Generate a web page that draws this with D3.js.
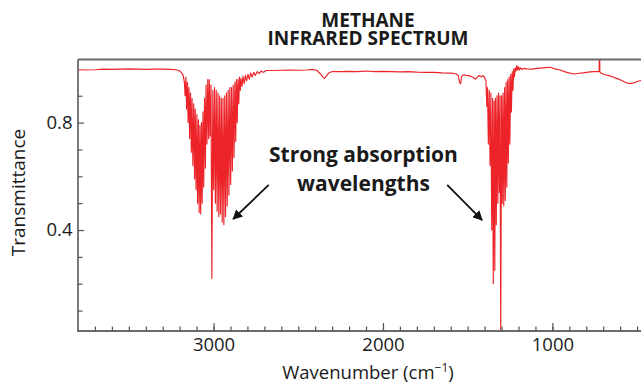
<!DOCTYPE html>
<html>
<head>
<meta charset="utf-8">
<script src="https://cdn.jsdelivr.net/npm/d3@7"></script>
<style>
  body { margin: 0; background: #fff; }
  svg text { font-family: "Open Sans", "Noto Sans", sans-serif; fill: #1a1a1a; }
</style>
</head>
<body>
<svg id="chart" width="641" height="382"></svg>
<script>
// Methane IR transmittance spectrum, [wavenumber cm^-1, transmittance]

// flat region above the C–H stretch
const highBaseline = [
  [3800, 0.997], [3750, 0.996], [3700, 0.997], [3650, 0.999], [3600, 0.998],
  [3550, 0.999], [3500, 1.000], [3450, 0.999], [3400, 0.998], [3350, 0.999],
  [3300, 0.999], [3250, 0.998], [3215, 0.996], [3195, 0.990], [3180, 0.978]
];

// C–H stretching band (R branch, Q line, P branch)
const stretchBand = [
  [3172, 0.95], [3168, 0.90], [3163, 0.97], [3159, 0.85], [3154, 0.95],
  [3150, 0.80], [3145, 0.93], [3141, 0.74], [3136, 0.91], [3131, 0.69],
  [3127, 0.89], [3122, 0.64], [3117, 0.87], [3112, 0.59], [3108, 0.85],
  [3103, 0.55], [3098, 0.83], [3094, 0.50], [3089, 0.81], [3085, 0.465],
  [3080, 0.79], [3076, 0.46], [3071, 0.80], [3067, 0.50], [3062, 0.84],
  [3058, 0.56], [3053, 0.89], [3048, 0.63], [3044, 0.94], [3039, 0.72],
  [3034, 0.96], [3029, 0.74], [3025, 0.96], [3020, 0.75], [3015, 0.94],
  [3010, 0.22],
  [3004, 0.92], [2999, 0.55], [2994, 0.93], [2989, 0.50], [2984, 0.92],
  [2979, 0.47], [2974, 0.91], [2969, 0.45], [2964, 0.90], [2959, 0.46],
  [2954, 0.89], [2949, 0.43], [2944, 0.89], [2939, 0.42], [2934, 0.90],
  [2929, 0.45], [2924, 0.91], [2919, 0.49], [2914, 0.92], [2909, 0.53],
  [2904, 0.93], [2899, 0.57], [2894, 0.93], [2889, 0.62], [2884, 0.94],
  [2879, 0.67], [2874, 0.95], [2869, 0.73], [2865, 0.96], [2860, 0.80],
  [2856, 0.96], [2851, 0.87], [2847, 0.97], [2842, 0.92]
];

// weak structure trailing the stretch band
const stretchTail = [
  [2838, 0.965], [2832, 0.935], [2826, 0.972], [2819, 0.945], [2812, 0.976],
  [2805, 0.955], [2797, 0.980], [2789, 0.962], [2781, 0.984], [2772, 0.970],
  [2763, 0.987], [2753, 0.976], [2742, 0.990], [2731, 0.982], [2718, 0.992],
  [2705, 0.987], [2690, 0.994]
];

// region between the two bands (CO2 dip near 2350)
const midBaseline = [
  [2650, 0.994], [2600, 0.995], [2550, 0.996], [2500, 0.995], [2450, 0.996],
  [2410, 0.998], [2390, 0.994], [2370, 0.982], [2355, 0.970], [2345, 0.965],
  [2335, 0.972], [2320, 0.985], [2300, 0.990], [2250, 0.990], [2200, 0.991],
  [2150, 0.990], [2100, 0.992], [2050, 0.990], [2000, 0.991], [1950, 0.990],
  [1900, 0.989], [1850, 0.990], [1800, 0.988], [1750, 0.987], [1700, 0.987],
  [1650, 0.985], [1600, 0.984], [1570, 0.982], [1555, 0.975], [1548, 0.950],
  [1542, 0.945], [1536, 0.970], [1525, 0.978], [1510, 0.976], [1495, 0.975],
  [1480, 0.972], [1465, 0.968], [1455, 0.962], [1447, 0.965], [1440, 0.972],
  [1430, 0.975], [1418, 0.970], [1410, 0.975], [1400, 0.968]
];

// C–H bending band
const bendBand = [
  [1392, 0.955], [1387, 0.86], [1383, 0.93], [1378, 0.72], [1373, 0.92],
  [1368, 0.64], [1363, 0.91], [1358, 0.40], [1353, 0.89], [1349, 0.20],
  [1344, 0.88], [1340, 0.25], [1336, 0.89], [1331, 0.42], [1327, 0.90],
  [1322, 0.50], [1318, 0.91], [1313, 0.54], [1309, 0.90],
  [1305, 0.00],
  [1300, 0.90], [1296, 0.50], [1291, 0.91], [1287, 0.49], [1282, 0.93],
  [1278, 0.51], [1273, 0.95], [1269, 0.56], [1264, 0.96], [1260, 0.65],
  [1255, 0.97], [1251, 0.72], [1246, 0.98], [1242, 0.84], [1237, 0.99],
  [1233, 0.92], [1228, 1.00], [1224, 0.97]
];

// low-wavenumber end
const lowBaseline = [
  [1219, 1.004], [1214, 0.992], [1210, 1.012], [1205, 0.995], [1200, 1.008],
  [1194, 0.996], [1188, 1.004], [1180, 0.998], [1170, 1.002], [1150, 1.000],
  [1120, 0.999], [1100, 1.001], [1071, 1.003], [1040, 1.005], [1012, 1.006],
  [985, 1.000], [954, 0.996], [920, 0.988], [874, 0.981], [840, 0.984],
  [818, 0.985], [790, 0.988], [760, 0.990], [736, 0.990], [724, 0.991],
  [722, 1.200], [720, 0.988], [712, 0.984], [690, 0.978], [650, 0.972],
  [610, 0.962], [570, 0.950], [545, 0.945], [520, 0.948], [495, 0.954],
  [477, 0.957]
];

const xTickLabels = [3000, 2000, 1000];
const yTickLabels = [0.8, 0.4];
const titleLines = ["METHANE", "INFRARED SPECTRUM"];
const noteLines = ["Strong absorption", "wavelengths"];
// arrows: [from wavenumber, from T, to wavenumber, to T]
const noteArrows = [
  [2674, 0.568, 2884, 0.441],
  [1621, 0.568, 1415, 0.437]
];

const spectrum = [].concat(highBaseline, stretchBand, stretchTail, midBaseline, bendBand, lowBaseline);

const svg = d3.select("#chart");
const plotLeft = 78, plotRight = 641, plotTop = 59.5, plotBottom = 331;

const x = d3.scaleLinear().domain([3800, 477]).range([plotLeft, plotRight]);
const y = d3.scaleLinear().domain([0.024, 1.035]).range([plotBottom, plotTop]);

const defs = svg.append("defs");
defs.append("clipPath").attr("id", "plot-clip")
  .append("rect").attr("x", plotLeft).attr("y", plotTop)
  .attr("width", plotRight - plotLeft).attr("height", plotBottom - plotTop);

defs.append("marker")
  .attr("id", "arrowhead").attr("viewBox", "0 0 10 10")
  .attr("refX", 9).attr("refY", 5)
  .attr("markerWidth", 5.5).attr("markerHeight", 5.5)
  .attr("orient", "auto")
  .append("path").attr("d", "M0,0 L10,5 L0,10 Z").attr("fill", "#111");

// spectrum trace
svg.append("path")
  .datum(spectrum)
  .attr("clip-path", "url(#plot-clip)")
  .attr("fill", "none")
  .attr("stroke", "#ec2328")
  .attr("stroke-width", 1.15)
  .attr("stroke-linejoin", "round")
  .attr("d", d3.line().x(d => x(d[0])).y(d => y(d[1])));

// frame
const frame = svg.append("g").attr("stroke", "#6a6a6a").attr("stroke-width", 1.8).attr("fill", "none");
frame.append("line").attr("x1", plotLeft).attr("x2", plotRight).attr("y1", plotTop).attr("y2", plotTop);
frame.append("line").attr("x1", plotLeft).attr("x2", plotLeft).attr("y1", plotTop).attr("y2", plotBottom);
frame.append("line").attr("x1", plotLeft - 0.9).attr("x2", plotRight).attr("y1", plotBottom).attr("y2", plotBottom);

function styleAxis(g) {
  g.select(".domain").remove();
  g.selectAll(".tick line").attr("stroke", "#555").attr("stroke-width", 1.2);
  g.selectAll(".tick text").attr("fill", "#1a1a1a").attr("font-size", "18.5px")
    .attr("font-family", "'Open Sans', 'Noto Sans', sans-serif");
}

// x axis: minor ticks every 100, labelled majors every 1000
svg.append("g").attr("transform", `translate(0,${plotBottom})`)
  .call(d3.axisBottom(x).tickValues(d3.range(3700, 477, -100)).tickSize(-4.5).tickFormat(""))
  .call(styleAxis);
svg.append("g").attr("transform", `translate(0,${plotBottom})`)
  .call(d3.axisBottom(x).tickValues(xTickLabels).tickSize(-8).tickPadding(7).tickFormat(d3.format("d")))
  .call(styleAxis);

// y axis: minor ticks every 0.1, labelled at 0.8 and 0.4
svg.append("g").attr("transform", `translate(${plotLeft},0)`)
  .call(d3.axisLeft(y).tickValues([0.1, 0.2, 0.3, 0.5, 0.6, 0.7, 0.9]).tickSize(-4.5).tickFormat(""))
  .call(styleAxis);
svg.append("g").attr("transform", `translate(${plotLeft},0)`)
  .call(d3.axisLeft(y).tickValues(yTickLabels).tickSize(-6).tickPadding(5.5).tickFormat(d3.format(".1f")))
  .call(styleAxis);

// two-line title
const title = svg.append("text")
  .attr("text-anchor", "middle")
  .attr("font-size", "19px").attr("font-weight", 700);
title.selectAll("tspan").data(titleLines).join("tspan")
  .attr("x", 368).attr("y", (d, i) => 26.8 + i * 18.5)
  .text(d => d);

const xTitle = svg.append("text")
  .attr("x", 368).attr("y", 378.5)
  .attr("text-anchor", "middle").attr("font-size", "18.5px");
xTitle.append("tspan").text("Wavenumber (cm");
xTitle.append("tspan").attr("dy", -7).attr("font-size", "12px").text("\u22121");
xTitle.append("tspan").attr("dy", 7).text(")");

svg.append("text")
  .attr("transform", "translate(25,192.5) rotate(-90)")
  .attr("text-anchor", "middle").attr("font-size", "19px")
  .text("Transmittance");

// annotation
svg.append("g").selectAll("text").data(noteLines).join("text")
  .attr("x", x(2115)).attr("y", (d, i) => i === 0 ? 161.5 : 191)
  .attr("text-anchor", "middle")
  .attr("font-size", "21px").attr("font-weight", 700)
  .text(d => d);

svg.append("g").selectAll("line").data(noteArrows).join("line")
  .attr("x1", d => x(d[0])).attr("y1", d => y(d[1]))
  .attr("x2", d => x(d[2])).attr("y2", d => y(d[3]))
  .attr("stroke", "#111").attr("stroke-width", 1.8)
  .attr("marker-end", "url(#arrowhead)");
</script>
</body>
</html>
